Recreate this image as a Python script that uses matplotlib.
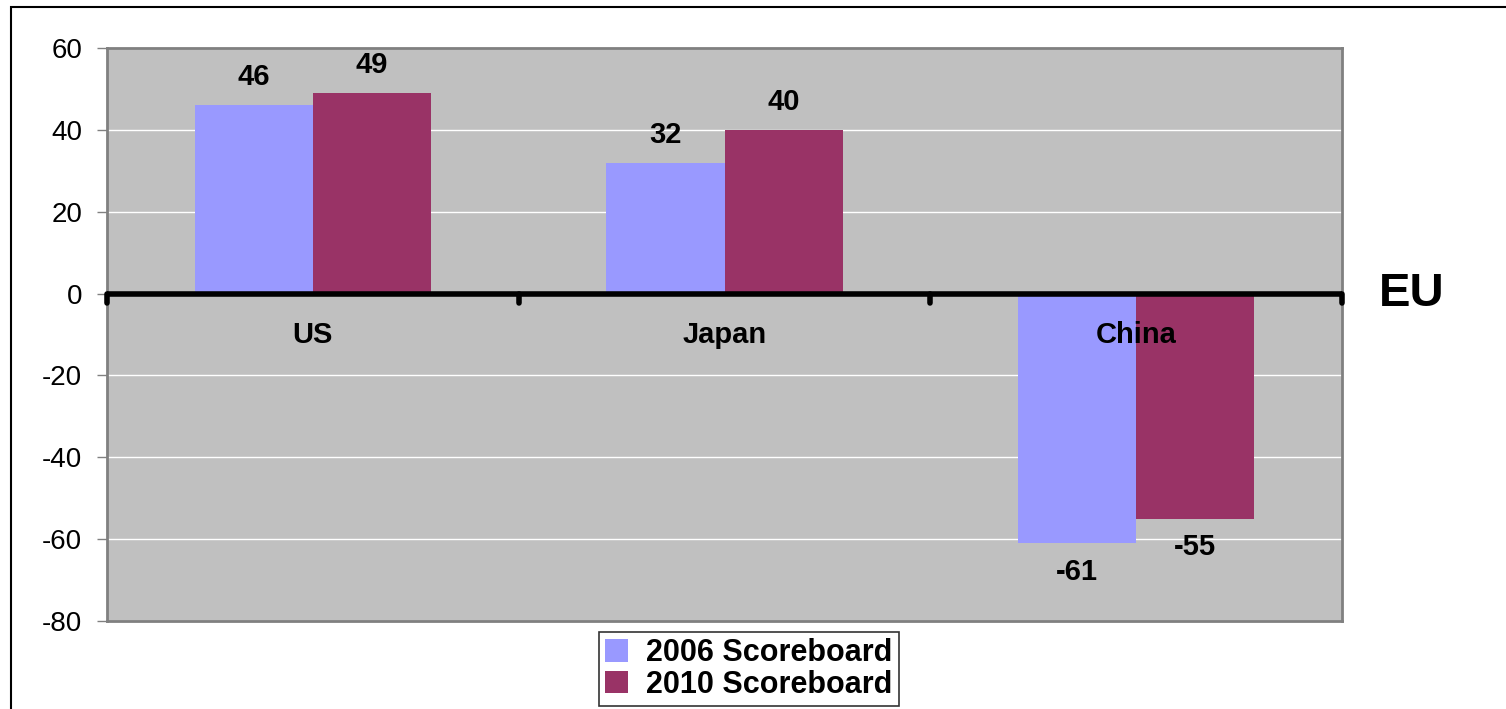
import numpy as np
import matplotlib.pyplot as plt
from matplotlib.patches import Rectangle
from matplotlib.transforms import blended_transform_factory

plt.rcParams['font.family'] = ['Liberation Sans', 'DejaVu Sans']

# Данные
regions = ['US', 'Japan', 'China']
score_2006 = [46, 32, -61]
score_2010 = [49, 40, -55]
yticks = [-80, -60, -40, -20, 0, 20, 40, 60]

fig = plt.figure(figsize=(15.06, 7.09), dpi=100)
ax = fig.add_axes([107 / 1506, 1 - 621 / 709, (1342 - 107) / 1506, (621 - 48) / 709])

# рамка вокруг всей картинки
fig.patches.append(Rectangle((11 / 1506, -0.05), 1.1, 1 - 7 / 709 + 0.05,
                             transform=fig.transFigure, fill=False,
                             edgecolor='black', linewidth=1.5))

ax.set_facecolor('#C0C0C0')
x = np.arange(len(regions))
w = 0.287
b1 = ax.bar(x - w / 2, score_2006, w, color='#9999FF', label='2006 Scoreboard', zorder=2)
b2 = ax.bar(x + w / 2, score_2010, w, color='#993366', label='2010 Scoreboard', zorder=2)

ax.set_xlim(-0.5, 2.5)
ax.set_ylim(-80, 60)
ax.set_yticks(yticks)
ax.set_yticklabels([str(v) for v in yticks], fontsize=20)
ax.set_xticks([])
ax.yaxis.grid(True, color='white', linewidth=1, zorder=1)
ax.set_axisbelow(True)
ax.tick_params(axis='y', length=7, width=1, color='#808080', pad=11)
for s in ax.spines.values():
    s.set_color('#808080')
    s.set_linewidth(2)

# ось EU через ноль
ax.axhline(0, color='black', linewidth=4, zorder=3)
for xb in [-0.5, 0.5, 1.5, 2.5]:
    ax.plot([xb, xb], [0, -2.2], color='black', linewidth=4,
            solid_capstyle='round', zorder=3, clip_on=False)

# подписи регионов
for xi, name in zip(x, regions):
    ax.text(xi, -10, name, ha='center', va='center', fontsize=21,
            fontweight='bold', zorder=4)

# подписи значений
for bars, vals in [(b1, score_2006), (b2, score_2010)]:
    for r, v in zip(bars, vals):
        cx = r.get_x() + r.get_width() / 2
        off = 6.8 if v > 0 else -7
        ax.text(cx, v + off, str(v), ha='center', va='center',
                fontsize=21, fontweight='bold', zorder=4)

ax.text(1.03, 0, 'EU', transform=blended_transform_factory(ax.transAxes, ax.transData),
        ha='left', va='center', fontsize=34, fontweight='bold')

leg = fig.legend(handles=[b1, b2], loc='upper center',
                 bbox_to_anchor=(749 / 1506, 1 - 632 / 709),
                 prop={'weight': 'bold', 'size': 22}, frameon=True, fancybox=False,
                 handlelength=0.75, handleheight=0.75, handletextpad=0.6,
                 borderpad=0.2, labelspacing=0.05, borderaxespad=0)
leg.get_frame().set_edgecolor('black')
leg.get_frame().set_linewidth(1.2)

fig.savefig('out.png', dpi=100)
